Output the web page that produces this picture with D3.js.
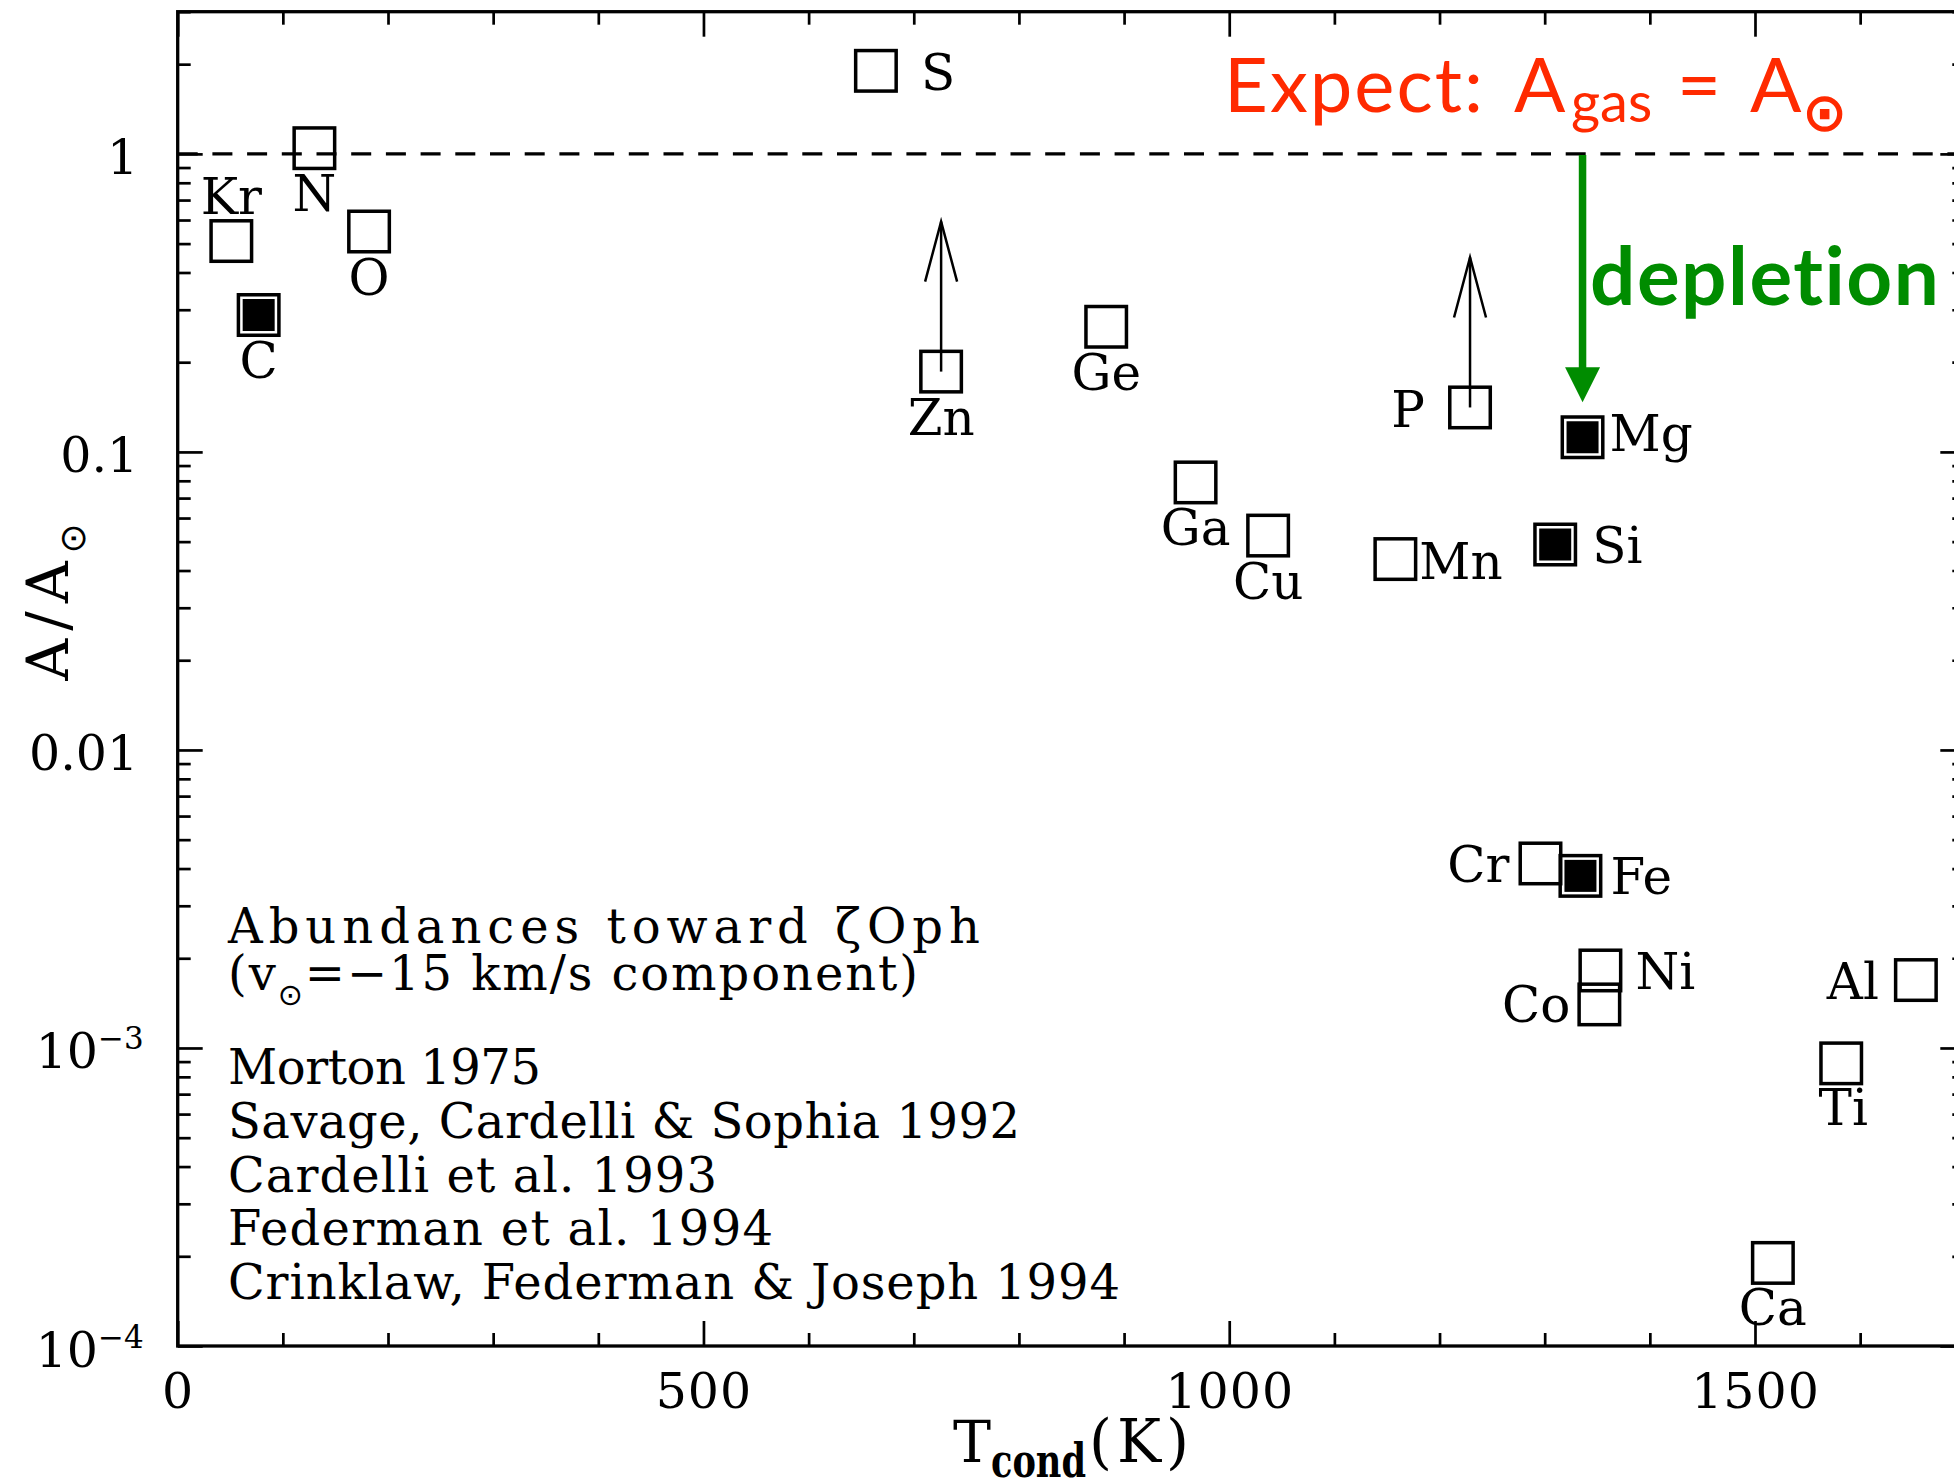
<!DOCTYPE html>
<html>
<head>
<meta charset="utf-8">
<script src="https://cdn.jsdelivr.net/npm/d3@7"></script>
<style>
  html, body { margin: 0; padding: 0; background: #fff; }
  svg { display: block; }
</style>
</head>
<body>
<svg id="chart" width="1954" height="1480"></svg>
<script>
// Gas-phase abundances toward zeta Oph (v = -15 km/s cloud) vs. condensation temperature
const elements   = ["Kr", "C", "N", "O", "S", "Zn", "Ge", "Ga", "Cu", "Mn", "P", "Cr", "Si", "Fe", "Mg", "Co", "Ni", "Ca", "Ti", "Al"];
const tCond      = [51, 77, 130, 182, 664, 726, 883, 968, 1037, 1158, 1229, 1296, 1310, 1334, 1336, 1352, 1353, 1517, 1582, 1653];
const abundance  = [0.51, 0.288, 1.045, 0.549, 1.90, 0.186, 0.263, 0.079, 0.0524, 0.0437, 0.141, 0.00416, 0.0489, 0.00378, 0.112, 0.0014, 0.00182, 0.00019, 0.000888, 0.00169];
const filledSymbols = ["C", "Mg", "Si", "Fe"];
const lowerLimits   = ["Zn", "P"];

const xMajorTicks = [0, 500, 1000, 1500];
const yMajorTicks = [1e-4, 1e-3, 0.01, 0.1, 1];
const yTickText   = ["10|-4", "10|-3", "0.01", "0.1", "1"];

const references = [
  "Morton 1975",
  "Savage, Cardelli & Sophia 1992",
  "Cardelli et al. 1993",
  "Federman et al. 1994",
  "Crinklaw, Federman & Joseph 1994"
];

// ---- layout ----
const plot = { left: 177.7, right: 1965.3, top: 11.7, bottom: 1346 };
const serif = '"DejaVu Serif", serif';
const sans = 'Lato, "Open Sans", sans-serif';
const symbolFont = '"DejaVu Sans", sans-serif';
const red = "#ff2a00", green = "#008c00";

const x = d3.scaleLinear().domain([0, 1700]).range([plot.left, plot.right]);
const y = d3.scaleLog().domain([1e-4, 3]).range([plot.bottom, plot.top]);

const svg = d3.select("#chart");

// where each element's name sits relative to its symbol
const labelPlace = {
  Kr: ["above", 0, -27.5], N: ["below", 0, 63], O: ["below", 0, 63], C: ["below", 0, 63],
  S: ["right", 45, 19], Zn: ["below", 0, 63.5], Ge: ["below", 0, 63.5], Ga: ["below", 0, 62.5],
  Cu: ["below", 0, 63], Mn: ["right", 24, 20], P: ["left", 45, 19.5], Mg: ["right", 27, 14],
  Si: ["right", 37, 18.5], Cr: ["left", 31, 18.5], Fe: ["right", 30, 18], Ni: ["right", 35, 19],
  Co: ["left", 29, 18], Al: ["left", 37, 19], Ti: ["below", 2, 62], Ca: ["below", 0, 62]
};

// ---- axes ----
const xMinor = d3.range(0, 1701, 100).filter(v => !xMajorTicks.includes(v));
const yMinor = [];
for (let e = -4; e <= 0; e++) for (let m = 2; m <= 9; m++) { const v = m * Math.pow(10, e); if (v <= 3) yMinor.push(v); }

function tidy(g) {
  g.select(".domain").remove();
  g.selectAll(".tick line").attr("stroke", "#000").attr("stroke-width", 2.7);
  g.attr("font-family", serif).attr("font-size", 49);
}

// bottom
svg.append("g").attr("transform", `translate(0,${plot.bottom})`)
  .call(d3.axisBottom(x).tickValues(xMajorTicks).tickSize(-25).tickFormat(d3.format("d")))
  .call(tidy)
  .call(g => g.selectAll("text").attr("y", 62).attr("dy", null).attr("fill", "#000").attr("letter-spacing", 1));
svg.append("g").attr("transform", `translate(0,${plot.bottom})`)
  .call(d3.axisBottom(x).tickValues(xMinor).tickSize(-13).tickFormat(""))
  .call(tidy);
// top
svg.append("g").attr("transform", `translate(0,${plot.top})`)
  .call(d3.axisTop(x).tickValues(xMajorTicks).tickSize(-25).tickFormat(""))
  .call(tidy);
svg.append("g").attr("transform", `translate(0,${plot.top})`)
  .call(d3.axisTop(x).tickValues(xMinor).tickSize(-13).tickFormat(""))
  .call(tidy);
// left
svg.append("g").attr("transform", `translate(${plot.left},0)`)
  .call(d3.axisLeft(y).tickValues(yMajorTicks).tickSize(-25).tickFormat((d, i) => yTickText[i]))
  .call(tidy)
  .call(g => g.selectAll("text")
    .attr("x", -39.5).attr("y", 20).attr("dy", null).attr("fill", "#000")
    .each(function () {
      const t = d3.select(this), s = t.text();
      if (s.includes("|")) {
        const [base, ex] = s.split("|");
        t.text(base);
        t.attr("x", -34);
        t.append("tspan").attr("dy", -19).attr("font-size", 31).text(ex.replace("-", "\u2212"));
      }
    }));
svg.append("g").attr("transform", `translate(${plot.left},0)`)
  .call(d3.axisLeft(y).tickValues(yMinor).tickSize(-13).tickFormat(""))
  .call(tidy);
// right
svg.append("g").attr("transform", `translate(${plot.right},0)`)
  .call(d3.axisRight(y).tickValues(yMajorTicks).tickSize(-25).tickFormat(""))
  .call(tidy);
svg.append("g").attr("transform", `translate(${plot.right},0)`)
  .call(d3.axisRight(y).tickValues(yMinor).tickSize(-13).tickFormat(""))
  .call(tidy);

// frame
svg.append("rect")
  .attr("x", plot.left).attr("y", plot.top)
  .attr("width", plot.right - plot.left).attr("height", plot.bottom - plot.top)
  .attr("fill", "none").attr("stroke", "#000").attr("stroke-width", 3.3);

// solar reference line
svg.append("line")
  .attr("x1", plot.left).attr("x2", plot.right)
  .attr("y1", y(1)).attr("y2", y(1))
  .attr("stroke", "#000").attr("stroke-width", 3.3)
  .attr("stroke-dasharray", "20 14.7");

// ---- data symbols ----
const data = elements.map((el, i) => ({ el, t: tCond[i], a: abundance[i] }));
const box = 40.5, inner = 32;

const pts = svg.append("g").selectAll("g").data(data).join("g")
  .attr("transform", d => `translate(${x(d.t)},${y(d.a)})`);

pts.append("rect")
  .attr("x", -box / 2).attr("y", -box / 2).attr("width", box).attr("height", box)
  .attr("fill", "none").attr("stroke", "#000").attr("stroke-width", 3.5);

pts.filter(d => filledSymbols.includes(d.el)).append("rect")
  .attr("x", -inner / 2).attr("y", -inner / 2).attr("width", inner).attr("height", inner)
  .attr("fill", "#000");

// lower-limit arrows
const lim = pts.filter(d => lowerLimits.includes(d.el));
lim.append("line").attr("x1", 0).attr("x2", 0).attr("y1", 0).attr("y2", -150)
  .attr("stroke", "#000").attr("stroke-width", 2.5);
lim.append("polyline").attr("points", "-16,-90 0,-150 16,-90")
  .attr("fill", "none").attr("stroke", "#000").attr("stroke-width", 2.5)
  .attr("stroke-linejoin", "miter");

// element names
pts.append("text")
  .attr("font-family", serif).attr("font-size", 50).attr("fill", "#000")
  .attr("text-anchor", d => {
    const s = labelPlace[d.el][0];
    return s === "right" ? "start" : s === "left" ? "end" : "middle";
  })
  .attr("x", d => {
    const [s, dx] = labelPlace[d.el];
    return s === "right" ? dx : s === "left" ? -dx : dx;
  })
  .attr("y", d => labelPlace[d.el][2])
  .text(d => d.el);

// ---- annotation block ----
const note = svg.append("g").attr("font-family", serif).attr("font-size", 48).attr("fill", "#000");
note.append("text").attr("x", 228).attr("y", 943)
  .attr("textLength", 752).attr("lengthAdjust", "spacing")
  .text("Abundances toward \u03B6Oph");
const l2 = note.append("text").attr("x", 228).attr("y", 990)
  .attr("textLength", 690).attr("lengthAdjust", "spacing");
l2.append("tspan").text("(v");
l2.append("tspan").attr("font-size", 30).attr("font-family", symbolFont).attr("dy", 15).text("\u2299");
l2.append("tspan").attr("dy", -15).text("=\u221215 km/s component)");

const refWidths = [313, 792, 489, 545, 892];
const refBase = [1083.5, 1137.5, 1191.5, 1245, 1298.5];
note.selectAll("text.ref").data(references).join("text")
  .attr("class", "ref")
  .attr("x", 228).attr("y", (d, i) => refBase[i])
  .attr("textLength", (d, i) => refWidths[i]).attr("lengthAdjust", "spacing")
  .text(d => d);

// ---- axis titles ----
const xt = svg.append("g").attr("font-family", serif).attr("fill", "#000");
xt.append("text").attr("x", 953).attr("y", 1461.5).attr("font-size", 57).text("T");
xt.append("text").attr("x", 991).attr("y", 1477).attr("font-size", 46).attr("font-weight", "bold")
  .attr("textLength", 95).attr("lengthAdjust", "spacingAndGlyphs").text("cond");
xt.append("text").attr("x", 1089).attr("y", 1461.5).attr("font-size", 59).attr("letter-spacing", 5).text("(K)");

const yt = svg.append("text")
  .attr("transform", "translate(68,602) rotate(-90)")
  .attr("text-anchor", "middle").attr("font-family", serif).attr("font-size", 58).attr("fill", "#000");
yt.append("tspan").attr("letter-spacing", 8).text("A/A");
yt.append("tspan").attr("font-family", symbolFont).attr("font-size", 36).attr("dy", 17).text("\u2299");

// ---- solar expectation and depletion arrow ----
const ex = svg.append("text").attr("font-family", sans).attr("fill", red).attr("font-size", 76);
ex.append("tspan").attr("x", 1224).attr("y", 112).attr("letter-spacing", 2).text("Expect:");
ex.append("tspan").attr("x", 1514).attr("y", 112).text("A");
ex.append("tspan").attr("x", 1571).attr("y", 122).attr("font-size", 56).text("gas");
ex.append("tspan").attr("x", 1677).attr("y", 112).text("=");
ex.append("tspan").attr("x", 1750).attr("y", 112).text("A");
ex.append("tspan").attr("x", 1802).attr("y", 131).attr("font-size", 54)
  .attr("font-family", symbolFont).attr("font-weight", "bold").text("\u2299");

const mgIdx = elements.indexOf("Mg");
const ax = x(tCond[mgIdx]);
const tipY = y(abundance[mgIdx]) - 35;
svg.append("line")
  .attr("x1", ax).attr("x2", ax).attr("y1", y(1) + 1).attr("y2", tipY - 32)
  .attr("stroke", green).attr("stroke-width", 7.5);
svg.append("path")
  .attr("d", `M${ax - 17.5},${tipY - 35} L${ax + 17.5},${tipY - 35} L${ax},${tipY} Z`)
  .attr("fill", green);
svg.append("text")
  .attr("x", 1590).attr("y", 305)
  .attr("font-family", sans).attr("font-weight", "bold").attr("font-size", 80)
  .attr("letter-spacing", 1.5).attr("fill", green)
  .text("depletion");
</script>
</body>
</html>
